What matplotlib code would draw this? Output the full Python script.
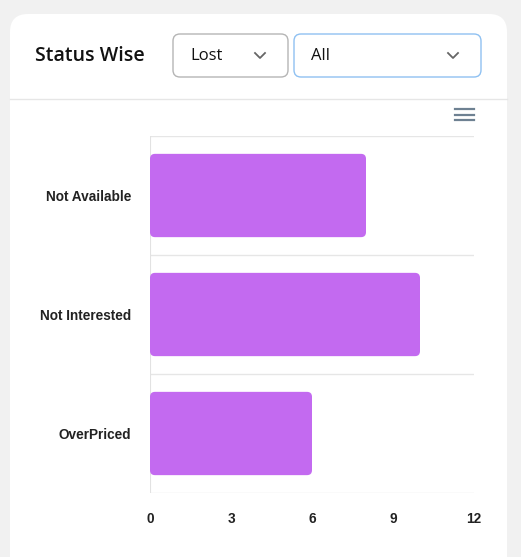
import matplotlib
matplotlib.use("Agg")
import matplotlib.pyplot as plt
from matplotlib.patches import FancyBboxPatch
from matplotlib.lines import Line2D

# data
categories = ["Not Available", "Not Interested", "OverPriced"]
values = [8, 10, 6]
xticks = [0, 3, 6, 9, 12]

W, H = 521, 557
BAR = "#c36af0"

fig = plt.figure(figsize=(W / 100, H / 100), dpi=100)
fig.patch.set_facecolor("#f1f1f1")


def fx(x):
    return x / W


def fy(y):
    return 1 - y / H


def box(x0, y0, x1, y1, r, fc, ec, lw=1.0, z=0):
    p = FancyBboxPatch((fx(x0), fy(y1)), fx(x1 - x0), (y1 - y0) / H,
                       boxstyle=f"round,pad=0,rounding_size={r / W}",
                       mutation_aspect=W / H, transform=fig.transFigure,
                       facecolor=fc, edgecolor=ec, linewidth=lw, zorder=z)
    fig.patches.append(p)


# card
box(10, 14, 507, 600, 18, "white", "none")

# header
fig.text(fx(35), fy(56), "Status Wise", fontsize=14, fontfamily="Open Sans",
         fontweight="semibold", color="#111111", va="center", ha="left")
box(173, 34, 288, 77, 7, "white", "#b5b5b5", lw=1)
box(294, 34, 481, 77, 7, "white", "#8fc1f2", lw=1)
fig.text(fx(190), fy(56), "Lost", fontsize=12, fontfamily="Open Sans",
         color="#111111", va="center", ha="left")
fig.text(fx(311), fy(56), "All", fontsize=12, fontfamily="Open Sans",
         color="#111111", va="center", ha="left")
for cx in (260, 453):
    fig.lines.append(Line2D([fx(cx - 5), fx(cx), fx(cx + 5)],
                            [fy(53), fy(58), fy(53)], transform=fig.transFigure,
                            color="#666666", lw=1.3))

# separator
fig.lines.append(Line2D([fx(10), fx(507)], [fy(98.5), fy(98.5)],
                        transform=fig.transFigure, color="#e6e6e6", lw=1))

# hamburger menu
for yy in (109, 114.5, 120):
    fig.lines.append(Line2D([fx(455), fx(474)], [fy(yy), fy(yy)],
                            transform=fig.transFigure, color="#6e8192", lw=1.6))

# chart
ax = fig.add_axes([fx(150), fy(493), fx(474) - fx(150), fy(136) - fy(493)])
ax.set_zorder(5)
ax.set_facecolor("none")
pos = list(range(len(categories)))
bars = ax.barh(pos, values, height=0.7, color=BAR)
ax.set_xlim(0, 12)
ax.set_ylim(len(categories) - 0.5, -0.5)

# rounded versions of the bars
xpx = (fx(474) - fx(150)) * W / 12
ypx = (fy(136) - fy(493)) * H / len(categories)
for b in bars:
    b.set_visible(False)
    rp = FancyBboxPatch((b.get_x(), b.get_y()), b.get_width(), b.get_height(),
                        boxstyle=f"round,pad=0,rounding_size={5 / xpx}",
                        mutation_aspect=xpx / ypx, facecolor=BAR,
                        edgecolor="none", zorder=2)
    ax.add_patch(rp)

for y in [-0.5, 0.5, 1.5, 2.5]:
    ax.axhline(y, color="#e6e6e6", lw=1, zorder=1)
ax.axvline(0, color="#e2e2e2", lw=1.5, zorder=1)

for s in ax.spines.values():
    s.set_visible(False)
ax.set_xticks(xticks)
ax.set_xticklabels([str(t) for t in xticks])
ax.set_yticks(pos)
ax.set_yticklabels(categories)
ax.tick_params(length=0)
ax.tick_params(axis="x", pad=14)
ax.tick_params(axis="y", pad=13.5)
for lab in ax.get_xticklabels() + ax.get_yticklabels():
    lab.set_fontfamily("Liberation Sans")
    lab.set_fontweight("bold")
    lab.set_fontsize(9.8)
    lab.set_color("#222222")

fig.savefig("out.png", dpi=100, facecolor=fig.get_facecolor())
